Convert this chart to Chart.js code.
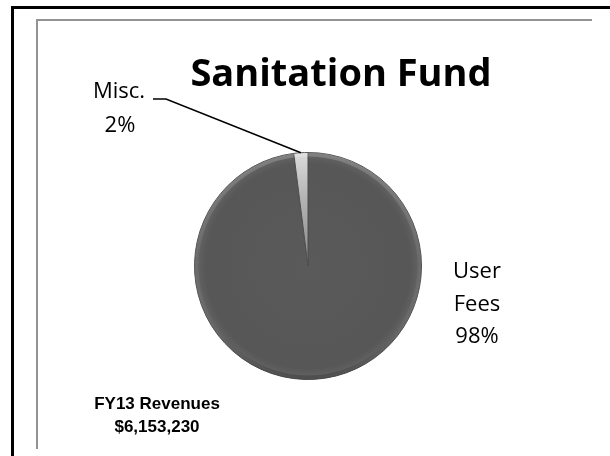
<!DOCTYPE html>
<html>
<head>
<meta charset="utf-8">
<title>Sanitation Fund</title>
<script src="https://cdn.jsdelivr.net/npm/chart.js@4"></script>
<style>
    html, body { margin: 0; padding: 0; background: #ffffff; }
    #graficoPizza { display: block; }
</style>
</head>
<body>
<canvas id="graficoPizza" width="610" height="456"></canvas>
<script>
// --- DADOS ---
const categorias = ['User Fees', 'Misc.'];
const percentuais = [98, 2];
const titulo = 'Sanitation Fund';
const totalLinhas = ['FY13 Revenues', '$6,153,230'];

// Cores: fatia principal cinza escuro, fatia menor cinza claro
function corFatia(context) {
    const chart = context.chart;
    const area = chart.chartArea;
    if (!area) return '#595959';
    const cx = (area.left + area.right) / 2;
    const cy = (area.top + area.bottom) / 2;
    const r = Math.min(area.right - area.left, area.bottom - area.top) / 2;
    const ctx = chart.ctx;
    const g = ctx.createRadialGradient(cx, cy, 0, cx, cy, r);
    if (context.dataIndex === 0) {
        g.addColorStop(0, '#5a5a5a');
        g.addColorStop(0.9, '#575757');
        g.addColorStop(0.96, '#606060');
        g.addColorStop(1, '#6a6a6a');
    } else {
        g.addColorStop(0, '#8a8a8a');
        g.addColorStop(0.6, '#b4b4b4');
        g.addColorStop(1, '#dcdcdc');
    }
    return g;
}

// Molduras, brilho da borda e textos
const molduraETextos = {
    id: 'molduraETextos',
    beforeDraw(chart) {
        const ctx = chart.ctx;
        ctx.save();
        // moldura preta externa
        ctx.strokeStyle = '#000000';
        ctx.lineWidth = 3;
        ctx.beginPath();
        ctx.moveTo(12.5, 456);
        ctx.lineTo(12.5, 7.5);
        ctx.lineTo(610, 7.5);
        ctx.stroke();
        // moldura cinza interna
        ctx.strokeStyle = '#939393';
        ctx.lineWidth = 2;
        ctx.beginPath();
        ctx.moveTo(37, 449);
        ctx.lineTo(37, 20);
        ctx.lineTo(592, 20);
        ctx.stroke();
        ctx.restore();
    },
    afterDatasetsDraw(chart) {
        // anel sutil: mais claro em cima, mais escuro embaixo
        const arco = chart.getDatasetMeta(0).data[0];
        const ctx = chart.ctx;
        const r = arco.outerRadius;
        ctx.save();
        const g = ctx.createLinearGradient(0, arco.y - r, 0, arco.y + r);
        g.addColorStop(0, 'rgba(255,255,255,0.18)');
        g.addColorStop(0.5, 'rgba(255,255,255,0.04)');
        g.addColorStop(1, 'rgba(0,0,0,0.22)');
        ctx.strokeStyle = g;
        ctx.lineWidth = 4;
        ctx.beginPath();
        ctx.arc(arco.x, arco.y, r - 2, 0, Math.PI * 2);
        ctx.stroke();
        ctx.restore();
    },
    afterDraw(chart) {
        const ctx = chart.ctx;
        ctx.save();
        ctx.fillStyle = '#000000';
        ctx.textAlign = 'center';
        ctx.textBaseline = 'alphabetic';

        ctx.font = 'bold 38px "Open Sans"';
        ctx.fillText(titulo, 341, 86);

        ctx.font = '22px "Open Sans"';
        ctx.fillText(categorias[1], 119, 98);
        ctx.fillText(percentuais[1] + '%', 120, 132);

        const partes = categorias[0].split(' ');
        ctx.fillText(partes[0], 477, 278);
        ctx.fillText(partes[1], 477, 311);
        ctx.fillText(percentuais[0] + '%', 477, 343);

        ctx.font = 'bold 17px "Liberation Sans"';
        ctx.fillText(totalLinhas[0], 157, 409);
        ctx.fillText(totalLinhas[1], 157, 432);

        // linha guia até a borda da fatia Misc.
        const arco = chart.getDatasetMeta(0).data[1];
        const meio = (arco.startAngle + arco.endAngle) / 2;
        const px = arco.x + Math.cos(meio) * arco.outerRadius;
        const py = arco.y + Math.sin(meio) * arco.outerRadius;
        ctx.strokeStyle = '#000000';
        ctx.lineWidth = 1.5;
        ctx.beginPath();
        ctx.moveTo(153, 99);
        ctx.lineTo(166, 99);
        ctx.lineTo(px, py);
        ctx.stroke();
        ctx.restore();
    }
};

new Chart(document.getElementById('graficoPizza').getContext('2d'), {
    type: 'pie',
    data: {
        labels: categorias,
        datasets: [{
            data: percentuais,
            backgroundColor: corFatia,
            borderColor: '#4e4e4e',
            borderWidth: 1
        }]
    },
    options: {
        responsive: false,
        animation: false,
        layout: { padding: { left: 194, right: 188, top: 152, bottom: 76 } },
        plugins: {
            legend: { display: false },
            tooltip: { enabled: false }
        }
    },
    plugins: [molduraETextos]
});
</script>
</body>
</html>
